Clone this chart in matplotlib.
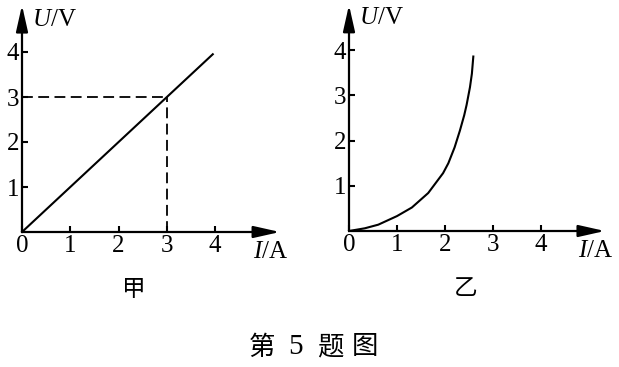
import numpy as np
import matplotlib
matplotlib.use("Agg")
import matplotlib.pyplot as plt

plt.rcParams['font.family'] = ['Liberation Serif', 'Noto Sans CJK SC', 'DejaVu Sans']
plt.rcParams['mathtext.fontset'] = 'custom'
plt.rcParams['mathtext.it'] = 'Liberation Serif:italic'
plt.rcParams['mathtext.rm'] = 'Liberation Serif'

# chart data
x_ticks = [0, 1, 2, 3, 4]
y_ticks = [1, 2, 3, 4]

# 甲: straight line through origin
I_jia = [0, 3.95]
U_jia = [0, 3.95]
I_mark = 3   # dashed guide point
U_mark = 3

# 乙: curve bending upward
I_yi = [0, 0.33, 0.61, 1.0, 1.31, 1.65, 1.96, 2.07, 2.2, 2.31, 2.4, 2.45, 2.52, 2.56, 2.59]
U_yi = [0, 0.06, 0.14, 0.33, 0.52, 0.84, 1.28, 1.50, 1.85, 2.22, 2.56, 2.79, 3.18, 3.48, 3.86]

W, H = 619, 367
fig = plt.figure(figsize=(W / 100, H / 100), dpi=100)

XLIM = (-0.45, 5.5)
YLIM = (-1.6, 5.1)
FS = 18


def make_axes(ox, oy, sx, sy):
    # ox, oy: origin in pixels (from top left), sx, sy: pixels per unit
    left = ox + XLIM[0] * sx
    right = ox + XLIM[1] * sx
    top = oy - YLIM[1] * sy
    bottom = oy - YLIM[0] * sy
    ax = fig.add_axes([left / W, 1 - bottom / H, (right - left) / W, (bottom - top) / H])
    ax.set_xlim(*XLIM)
    ax.set_ylim(*YLIM)
    ax.patch.set_alpha(0)
    for s in ['top', 'right']:
        ax.spines[s].set_visible(False)
    ax.spines['left'].set_position(('data', 0))
    ax.spines['bottom'].set_position(('data', 0))
    ax.spines['left'].set_visible(False)
    ax.spines['bottom'].set_visible(False)
    ax.set_xticks(x_ticks)
    ax.set_yticks(y_ticks)
    ax.tick_params(direction='in', length=4, width=1.5, labelsize=FS, pad=2)
    return ax


def draw_axes_arrows(ax, xtip, ytip):
    ap = dict(arrowstyle='-|>,head_length=0.8,head_width=0.18', color='black',
              lw=1.6, shrinkA=0, shrinkB=0, mutation_scale=20)
    ax.annotate('', xy=(xtip, 0), xytext=(0, 0), arrowprops=ap)
    ax.annotate('', xy=(0, ytip), xytext=(0, 0), arrowprops=ap)
    ax.text(0.2, 4.71, r'$\mathit{U}$/V', fontsize=FS, ha='left', va='center')
    ax.text(4.78, -0.45, r'$\mathit{I}$/A', fontsize=FS, ha='left', va='center')


# left chart 甲
ax1 = make_axes(22, 232, 48.3, 45.0)
draw_axes_arrows(ax1, 5.34, 5.04)
ax1.plot(I_jia, U_jia, color='black', lw=1.5)
ax1.plot([0, I_mark], [U_mark, U_mark], color='black', lw=1.3, ls=(0, (6, 3)))
ax1.plot([I_mark, I_mark], [0, U_mark], color='black', lw=1.3, ls=(0, (6, 3)))
ax1.text(2.31, -1.27, '甲', fontsize=17, family=['Noto Sans CJK SC'], ha='center', va='center')

# right chart 乙
ax2 = make_axes(349, 231, 48.0, 45.2)
draw_axes_arrows(ax2, 5.33, 5.0)
ax2.plot(I_yi, U_yi, color='black', lw=1.5, solid_joinstyle='round')
ax2.text(2.44, -1.28, '乙', fontsize=17, family=['Noto Sans CJK SC'], ha='center', va='center')

# caption
caption = ['第', '5', '题', '图']
cap_x = [261.5, 296, 330.5, 364.5]
for ch, px in zip(caption, cap_x):
    fig.text(px / W, 1 - 347 / H, ch, fontsize=19 if ch != '5' else 21, ha='center', va='center',
             family=['Noto Sans CJK SC'] if ch != '5' else ['Liberation Serif'])

fig.savefig('out.png', dpi=100)
